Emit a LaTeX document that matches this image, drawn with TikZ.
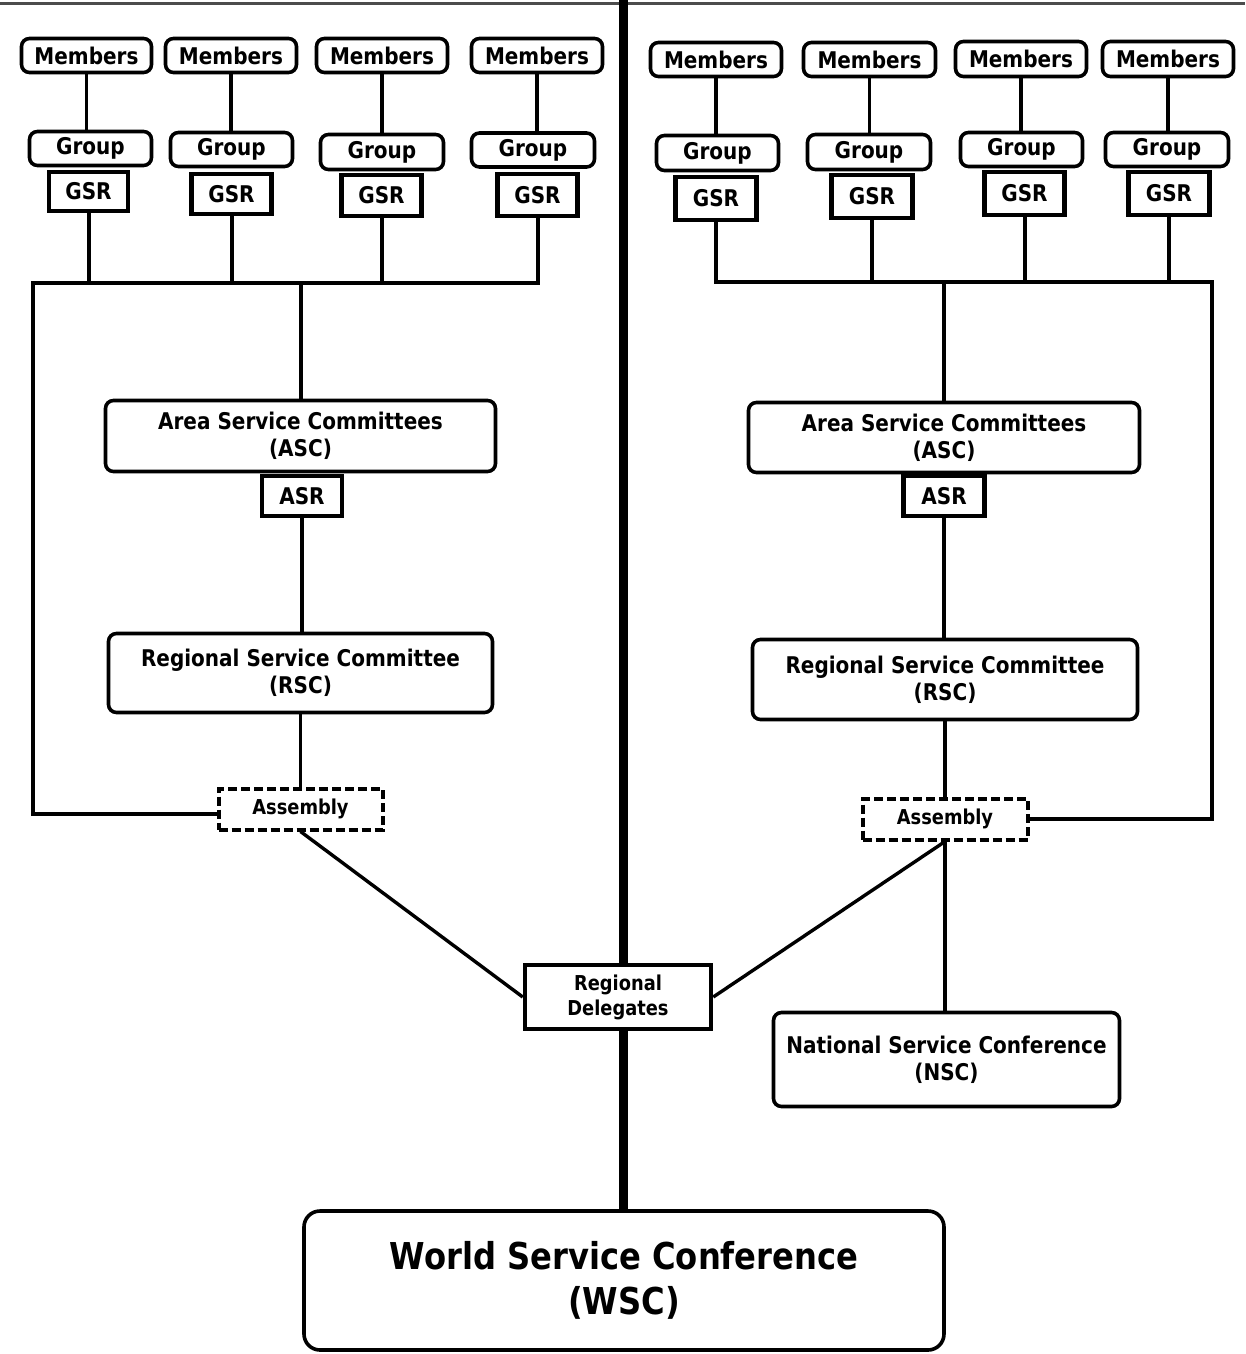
\documentclass[tikz,border=0pt]{standalone}
\usepackage{fontspec}
\newfontfamily\dvb[FakeStretch=0.87]{DejaVu Sans Bold}
\begin{document}
\begin{tikzpicture}[x=1pt,y=-1pt,
  rbox/.style={draw, line width=3.6pt, rounded corners=8pt, fill=white, inner sep=0pt, align=center,
    font={\dvb\fontsize{23}{27}\selectfont}},
  sbox/.style={draw, line width=4.8pt, fill=white, inner sep=0pt, align=center,
    font={\dvb\fontsize{23}{27}\selectfont}},
  dbox/.style={draw, line width=4pt, dash pattern=on 9pt off 4pt, fill=white, inner sep=0pt, align=center,
    font={\dvb\fontsize{20.5}{25}\selectfont}},
  conn/.style={line width=3.4pt},
  bus/.style={line width=4pt, line join=miter},
  spine/.style={line width=9pt}]
\useasboundingbox (0,0) rectangle (1245,1354);
\fill[white] (0,0) rectangle (1245,1354);
\draw[line width=3pt, black!70] (0,3.5) -- (1245,3.5);

% ---------- left side ----------
\node[rbox, minimum width=130pt, minimum height=34pt] (lm1) at (86.5,55.5) {Members};
\node[rbox, minimum width=131pt, minimum height=34pt] (lm2) at (231,55.5) {Members};
\node[rbox, minimum width=131pt, minimum height=34pt] (lm3) at (382,55.5) {Members};
\node[rbox, minimum width=131pt, minimum height=34pt] (lm4) at (537,55.5) {Members};

\node[rbox, minimum width=122pt, minimum height=34pt] (lg1) at (90.5,148.5) {Group};
\node[rbox, minimum width=122pt, minimum height=34pt] (lg2) at (231.5,149.5) {Group};
\node[rbox, minimum width=123pt, minimum height=35pt] (lg3) at (382,152) {Group};
\node[rbox, minimum width=123pt, minimum height=34pt] (lg4) at (533,150) {Group};

\node[sbox, minimum width=79pt, minimum height=39pt] (ls1) at (88.5,191.5) {GSR};
\node[sbox, minimum width=80pt, minimum height=40pt] (ls2) at (231.5,194) {GSR};
\node[sbox, minimum width=80pt, minimum height=41pt] (ls3) at (381.5,195.5) {GSR};
\node[sbox, minimum width=80pt, minimum height=42pt] (ls4) at (537.5,195) {GSR};

\node[rbox, minimum width=390pt, minimum height=71pt] (lasc) at (300.5,436) {Area Service Committees\\(ASC)};
\node[sbox, minimum width=80pt, minimum height=40pt] (lasr) at (302,496) {ASR};
\node[rbox, minimum width=384pt, minimum height=79pt] (lrsc) at (300.5,673) {Regional Service Committee\\(RSC)};
\node[dbox, minimum width=164pt, minimum height=41pt] (lasm) at (300.5,809) {Assembly};

% ---------- right side ----------
\node[rbox, minimum width=131pt, minimum height=34pt] (rm1) at (716,59.5) {Members};
\node[rbox, minimum width=132pt, minimum height=34pt] (rm2) at (869.5,59.5) {Members};
\node[rbox, minimum width=131pt, minimum height=35pt] (rm3) at (1021,59) {Members};
\node[rbox, minimum width=131pt, minimum height=35pt] (rm4) at (1168,59) {Members};

\node[rbox, minimum width=122pt, minimum height=35pt] (rg1) at (717.5,153) {Group};
\node[rbox, minimum width=123pt, minimum height=35pt] (rg2) at (869,152) {Group};
\node[rbox, minimum width=122pt, minimum height=34pt] (rg3) at (1021.5,149.5) {Group};
\node[rbox, minimum width=123pt, minimum height=34pt] (rg4) at (1167,149.5) {Group};

\node[sbox, minimum width=81pt, minimum height=43pt] (rs1) at (716,198.5) {GSR};
\node[sbox, minimum width=81pt, minimum height=43pt] (rs2) at (872,196.5) {GSR};
\node[sbox, minimum width=80pt, minimum height=43pt] (rs3) at (1024.5,193.5) {GSR};
\node[sbox, minimum width=81pt, minimum height=43pt] (rs4) at (1169,193.5) {GSR};

\node[rbox, minimum width=391pt, minimum height=70pt] (rasc) at (944,437.5) {Area Service Committees\\(ASC)};
\node[sbox, minimum width=81pt, minimum height=40pt] (rasr) at (944,496) {ASR};
\node[rbox, minimum width=385pt, minimum height=80pt] (rrsc) at (945,679.5) {Regional Service Committee\\(RSC)};
\node[dbox, minimum width=165pt, minimum height=41pt] (rasm) at (945,819) {Assembly};
\node[rbox, minimum width=346pt, minimum height=94pt] (nsc) at (946.5,1059.5) {National Service Conference\\(NSC)};

% ---------- centre ----------
\node[sbox, line width=4.5pt, minimum width=186pt, minimum height=64pt,
  font={\dvb\fontsize{20.5}{25}\selectfont}] (rd) at (618,997) {Regional\\Delegates};
\node[rbox, rounded corners=16pt, minimum width=640pt, minimum height=139pt,
  font={\dvb\fontsize{37}{45}\selectfont}] (wsc) at (624,1280.5) {World Service Conference\\(WSC)};

\coordinate (top) at (623.5,0);
\coordinate (lbus) at (33,283);
\coordinate (rbus) at (1212,282);
\coordinate (lasmin) at ([yshift=-5pt]lasm.west);

% spine
\draw[spine] (top) -- (top |- rd.north);
\draw[spine] (top |- rd.south) -- (top |- wsc.north);

% left connectors
\foreach \i in {1,2,3,4} {
  \draw[conn] (lm\i.south) -- (lm\i.south |- lg\i.north);
}
\draw[bus] (ls1.south) -- (ls1.south |- lbus);
\draw[bus] (ls2.south) -- (ls2.south |- lbus);
\draw[bus] (ls3.south) -- (ls3.south |- lbus);
\draw[bus] (lbus -| lasc.north) -- (lasc.north);
\draw[bus] (lasmin) -- (lbus |- lasmin) -- (lbus) -- (lbus -| ls4.south) -- (ls4.south);
\draw[conn] (lasr.south) -- (lasr.south |- lrsc.north);
\draw[conn] (lrsc.south) -- (lrsc.south |- lasm.north);
\draw[conn] (lasm.south) -- (rd.west);

% right connectors
\foreach \i in {1,2,3,4} {
  \draw[conn] (rm\i.south) -- (rm\i.south |- rg\i.north);
}
\draw[bus] (rs2.south) -- (rs2.south |- rbus);
\draw[bus] (rs3.south) -- (rs3.south |- rbus);
\draw[bus] (rs4.south) -- (rs4.south |- rbus);
\draw[bus] (rbus -| rasc.north) -- (rasc.north);
\draw[bus] (rs1.south) -- (rs1.south |- rbus) -- (rbus) -- (rbus |- rasm.east) -- (rasm.east);
\draw[conn] (rasr.south) -- (rasr.south |- rrsc.north);
\draw[conn] (rrsc.south) -- (rrsc.south |- rasm.north);
\draw[conn] (rasm.south) -- (rd.east);
\draw[conn] (rasm.south) -- (rasm.south |- nsc.north);
\end{tikzpicture}
\end{document}
